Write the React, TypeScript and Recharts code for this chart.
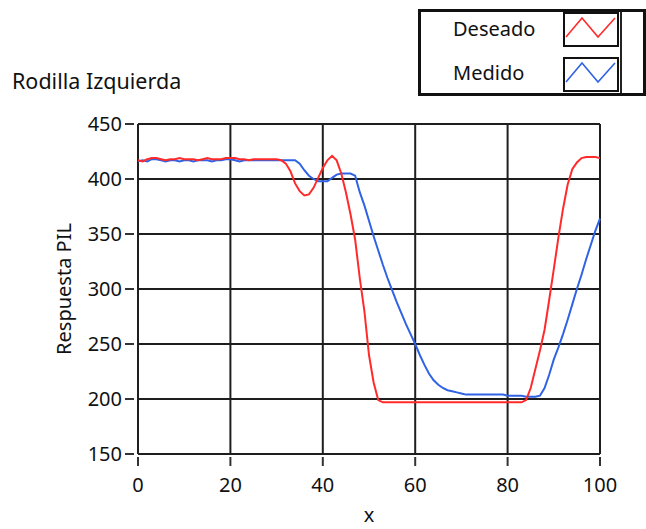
import { LineChart, Line, XAxis, YAxis, CartesianGrid } from "recharts"

// muestras cada 1 unidad de x (0..100)
const deseado = [
  417, 416, 418, 419, 419, 418, 417, 418, 418, 419,
  418, 418, 418, 417, 418, 419, 418, 418, 418, 419,
  419, 419, 418, 418, 417, 418, 418, 418, 418, 418,
  418, 417, 414, 407, 396, 389, 385, 386, 392, 401,
  410, 417, 421, 417, 405, 388, 368, 345, 310, 280,
  240, 215, 199, 197, 197, 197, 197, 197, 197, 197,
  197, 197, 197, 197, 197, 197, 197, 197, 197, 197,
  197, 197, 197, 197, 197, 197, 197, 197, 197, 197,
  197, 197, 197, 197, 199, 210, 227, 244, 263, 290,
  318, 347, 373, 395, 409, 415, 419, 420, 420, 420,
  419,
]

const medido = [
  416, 417, 416, 418, 418, 417, 416, 417, 417, 416,
  417, 417, 416, 417, 417, 417, 416, 417, 417, 418,
  418, 417, 416, 417, 417, 417, 417, 417, 417, 417,
  417, 417, 417, 417, 417, 414, 408, 403, 400, 398,
  398, 398, 401, 404, 405, 405, 405, 403, 388, 376,
  362, 348, 335, 322, 310, 299, 288, 278, 268, 259,
  250, 240, 231, 223, 217, 213, 210, 208, 207, 206,
  205, 204, 204, 204, 204, 204, 204, 204, 204, 204,
  203, 203, 203, 203, 202, 202, 202, 203, 210, 222,
  236, 247, 259, 272, 286, 300, 313, 327, 340, 353,
  364,
]

const xTicks = [0, 20, 40, 60, 80, 100]
const yTicks = [150, 200, 250, 300, 350, 400, 450]

const seriesNames = ["Deseado", "Medido"]
const seriesColors = ["#ff2b2b", "#2f62e4"]

const data = deseado.map((v, i) => ({ x: i, deseado: v, medido: medido[i] }))

const FONT = "'Noto Sans', 'DejaVu Sans', sans-serif"

function XTick(props: any) {
  const { x, y, payload } = props
  return (
    <g>
      <line x1={x} x2={x} y1={y + 3} y2={y + 12} stroke="#333" strokeWidth={2} />
      <text x={x} y={y + 38} textAnchor="middle" fontSize={20} fill="#111" fontFamily={FONT}>
        {payload.value}
      </text>
    </g>
  )
}

function YTick(props: any) {
  const { x, y, payload } = props
  return (
    <g>
      <line x1={x - 13} x2={x - 4} y1={y} y2={y} stroke="#333" strokeWidth={2} />
      <text x={x - 16} y={y + 7} textAnchor="end" fontSize={20} fill="#111" fontFamily={FONT}>
        {payload.value}
      </text>
    </g>
  )
}

function XLabel(props: any) {
  const { viewBox } = props
  return (
    <text
      x={viewBox.x + viewBox.width / 2}
      y={viewBox.y + viewBox.height - 7}
      textAnchor="middle"
      fontSize={20}
      fill="#111"
      fontFamily={FONT}
    >
      x
    </text>
  )
}

function YLabel(props: any) {
  const { viewBox } = props
  const cx = viewBox.x + 63
  const cy = viewBox.y + viewBox.height / 2
  return (
    <text
      x={cx}
      y={cy}
      transform={`rotate(-90, ${cx}, ${cy})`}
      textAnchor="middle"
      dominantBaseline="central"
      fontSize={20}
      fill="#111"
      fontFamily={FONT}
    >
      Respuesta PIL
    </text>
  )
}

function Swatch({ color }: { color: string }) {
  return (
    <svg width={56} height={35} style={{ display: "block" }}>
      <rect x={1} y={1} width={54} height={33} fill="#fff" stroke="#111" strokeWidth={2} />
      <polyline points="3,25 19,6 35,25 52,6" fill="none" stroke={color} strokeWidth={1.6} />
    </svg>
  )
}

export default function App() {
  return (
    <div style={{ position: "absolute", left: 0, top: 0, width: 646, height: 529, background: "#fff", fontFamily: FONT }}>
      <div style={{ position: "absolute", left: 12, top: 71, fontSize: 21.5, lineHeight: "20px", color: "#111" }}>
        Rodilla Izquierda
      </div>

      {/* leyenda */}
      <div
        style={{
          position: "absolute",
          left: 418,
          top: 9,
          width: 222,
          height: 81,
          border: "3px solid #111",
          background: "#fff",
        }}
      >
        <div style={{ position: "absolute", left: 199, top: 0, width: 2, height: 81, background: "#222" }} />
        {seriesNames.map((name, i) => (
          <div key={name}>
            <div
              style={{
                position: "absolute",
                left: 32,
                top: i === 0 ? 7 : 51,
                fontSize: 20,
                lineHeight: "20px",
                color: "#111",
              }}
            >
              {name}
            </div>
            <div style={{ position: "absolute", left: 142, top: i === 0 ? 0 : 45 }}>
              <Swatch color={seriesColors[i]} />
            </div>
          </div>
        ))}
      </div>

      <LineChart width={646} height={529} data={data} margin={{ top: 124, right: 46, left: 0, bottom: 0 }}>
        <CartesianGrid stroke="#1e1e1e" strokeWidth={2} />
        <XAxis
          dataKey="x"
          type="number"
          domain={[0, 100]}
          ticks={xTicks}
          interval={0}
          height={75}
          axisLine={false}
          tickLine={false}
          tickSize={0}
          tickMargin={0}
          tick={<XTick />}
          label={<XLabel />}
        />
        <YAxis
          type="number"
          domain={[150, 450]}
          ticks={yTicks}
          interval={0}
          width={138}
          axisLine={false}
          tickLine={false}
          tickSize={0}
          tickMargin={0}
          tick={<YTick />}
          label={<YLabel />}
        />
        <Line
          type="linear"
          dataKey="medido"
          name="Medido"
          stroke={seriesColors[1]}
          strokeWidth={2}
          dot={false}
          isAnimationActive={false}
        />
        <Line
          type="linear"
          dataKey="deseado"
          name="Deseado"
          stroke={seriesColors[0]}
          strokeWidth={2}
          dot={false}
          isAnimationActive={false}
        />
      </LineChart>
    </div>
  )
}
